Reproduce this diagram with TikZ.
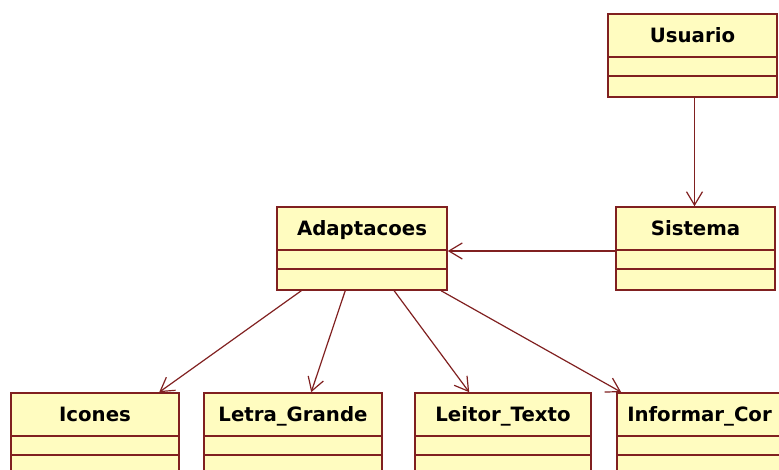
\documentclass[tikz,border=0pt]{standalone}
\usepackage{fontspec}
\setmainfont{DejaVu Sans}
\usetikzlibrary{arrows.meta,calc,fit}
\definecolor{umlline}{RGB}{128,32,32}
\definecolor{umlfill}{RGB}{255,252,192}
\tikzset{
  classbox/.style={draw=umlline, fill=umlfill, line width=1.2pt, inner sep=0pt, rectangle},
  classname/.style={font=\bfseries\fontsize{14.8}{16}\selectfont, text=black, inner sep=0pt},
  sepline/.style={draw=umlline, line width=1.3pt},
  assoc/.style={draw=umlline, line width=0.9pt, -{Straight Barb[length=10pt,width=12pt,line width=0.9pt]}}
}
% \umlclass{name}{x1}{y1}{x2}{y2}{title}: class box with a 44px name compartment
% followed by two empty compartments
\newcommand\umlclass[6]{%
  \node[classbox, fit={(#2,#3) (#4,#5)}] (#1) {};
  \node[classname, anchor=base] (#1-title) at ($(#1.north)+(0,29)$) {#6};
  \draw[sepline] ($(#1.north west)+(0,44)$) -- ($(#1.north east)+(0,44)$);
  \draw[sepline] ($(#1.north west)+(0,63)$) -- ($(#1.north east)+(0,63)$);
}
\begin{document}
\begin{tikzpicture}[x=0.75pt,y=-0.75pt]
  \useasboundingbox (0,0) rectangle (779,470);
  \clip (0,0) rectangle (779,470);

  \umlclass{usr}{608}{14}{777}{97}{Usuario}
  \umlclass{sis}{616}{207}{775}{290}{Sistema}
  \umlclass{ada}{277}{207}{447}{290}{Adaptacoes}
  \umlclass{ico}{11}{393}{179}{480}{Icones}
  \umlclass{let}{204}{393}{382}{480}{Letra\_Grande}
  \umlclass{lei}{415}{393}{591}{480}{Leitor\_Texto}
  % wide box running past the right edge
  \node[classbox, fit={(617,393) (800,480)}] (inf) {};
  \node[classname, anchor=base west] (inf-title) at (627,422) {Informar\_Cor};
  \draw[sepline] ($(inf.north west)+(0,44)$) -- ($(inf.north east)+(0,44)$);
  \draw[sepline] ($(inf.north west)+(0,63)$) -- ($(inf.north east)+(0,63)$);

  % associations
  \draw[assoc] ($(usr.south)+(2,0)$) -- ($(usr.south |- sis.north)+(2,0)$);
  \draw[assoc] ($(sis.west)+(0,2.5)$) -- ($(ada.east)+(0,2.5)$);
  \draw[assoc] ($(ada.south west)+(25,0)$) -- ($(ico.north west)+(149,0)$);
  \draw[assoc] ($(ada.south west)+(69,0)$) -- ($(let.north west)+(108,0)$);
  \draw[assoc] ($(ada.south west)+(118,0)$) -- ($(lei.north west)+(55,0)$);
  \draw[assoc] ($(ada.south west)+(165,0)$) -- ($(inf.north west)+(5,0)$);
\end{tikzpicture}
\end{document}
